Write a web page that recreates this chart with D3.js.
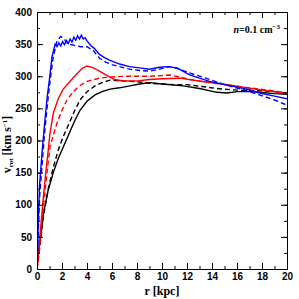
<!DOCTYPE html>
<html><head><meta charset="utf-8">
<script src="https://cdn.jsdelivr.net/npm/d3@7"></script>
<style>body{margin:0;background:#fff}</style>
</head><body>
<script>
// radius (kpc) and rotation velocity (km/s) samples
const blueSolidR = [0,0.1,0.2,0.4,0.6,0.8,1.0,1.2,1.45,1.6,1.75,1.9,2.05,2.2,2.35,2.5,2.65,2.8,2.95,3.1,3.25,3.4,3.55,3.7,3.85,4.0,4.3,4.6,5.0,5.4,5.8,6.2,6.6,7.4,8.2,9.0,9.8,10.5,11.2,12.2,13.0,13.8,15.0,16.0,17.0,17.8,19.0,20.0];
const blueSolidV = [0,70,130,180,225,265,296,330,350,346,352,347,354,349,356,351,358,353,361,356,363,358,364,358,360,355,348,343,334,329,325,322,319,315,313,311,314,315,313,302,297,292,287,283,279,274,269,265];
const blueDashR = [0,0.1,0.2,0.4,0.6,0.8,1.0,1.3,1.6,1.9,2.2,2.5,3.0,3.5,4.0,4.5,5.0,5.5,6.0,6.6,7.4,8.2,9.0,9.8,10.6,11.4,12.2,13.5,15.0,16.5,17.8,19.0,20.0];
const blueDashV = [0,55,110,160,210,250,285,330,355,362,357,350,348,346,346,340,328,322,318,315,311,309,308,311,315,311,305,297,287,279,271,263,255];
const redSolidR = [0,0.24,0.5,0.7,0.9,1.04,1.3,1.7,2.1,2.6,3.1,3.6,4.0,4.5,5.0,5.6,6.2,6.8,7.4,8.2,9.0,10.0,11.4,12.5,13.5,14.4,15.5,16.5,17.8,19.0,20.0];
const redSolidV = [0,53,110,150,185,211,242,265,280,291,302,312,316,313,308,301,295,293,292.5,293,295,296,297,294,291,289,286,283,279,276,273];
const redDashR = [0,0.24,0.5,0.8,1.04,1.3,1.6,2.0,2.4,2.9,3.4,4.0,5.0,6.0,7.0,8.0,9.0,10.0,10.6,11.4,12.2,13.5,15.0,16.5,17.8,19.0,20.0];
const redDashV = [0,40,95,150,190,208,227,247,263,276,285,292,297,299,300,300,300,301,302,299,295,291,287,283,280,277,274];
const blackSolidR = [0,0.2,0.5,0.9,1.3,1.7,2.1,2.6,3.0,3.44,4.0,4.64,5.2,5.84,6.6,7.44,8.2,9.04,10.0,11.7,13.0,14.4,15.2,16.0,17.0,17.8,19.0,20.0];
const blackSolidV = [0,40,85,123,150,172,190,212,230,247,261,271,276,280,282,285,288,290,288,285,281,275,274,276,276,275,273,272];
const blackDashR = [0,0.2,0.5,0.9,1.3,1.7,2.1,2.6,3.0,3.44,4.0,4.64,5.2,5.84,6.6,7.5,8.2,9.0,10.0,11.0,12.0,13.2,14.4,15.5,16.5,17.8,19.0,20.0];
const blackDashV = [0,30,80,125,158,185,206,228,246,263,276,285,290,294,293,292,291,289,288,287,287,284,281,279,278,277.5,276,274];

const xTicks = [0,2,4,6,8,10,12,14,16,18,20];
const yTicks = [0,50,100,150,200,250,300,350,400];

const series = [
  {r: blackSolidR, v: blackSolidV, color: "#000000", dash: null},
  {r: blackDashR, v: blackDashV, color: "#000000", dash: "5,3"},
  {r: redSolidR, v: redSolidV, color: "#ff0000", dash: null},
  {r: redDashR, v: redDashV, color: "#ff0000", dash: "5,3"},
  {r: blueSolidR, v: blueSolidV, color: "#0000ff", dash: null},
  {r: blueDashR, v: blueDashV, color: "#0000ff", dash: "5,3"}
];

const W = 299, H = 299;
const m = {l: 37, r: 12, t: 12, b: 30};
const svg = d3.select("body").append("svg").attr("width", W).attr("height", H);
const x = d3.scaleLinear().domain([0, 20]).range([m.l, W - m.r]);
const y = d3.scaleLinear().domain([0, 400]).range([H - m.b, m.t]);

svg.append("clipPath").attr("id", "c").append("rect")
  .attr("x", m.l).attr("y", m.t).attr("width", W - m.l - m.r).attr("height", H - m.t - m.b);

const line = d3.line().x(d => x(d[0])).y(d => y(d[1]));
const g = svg.append("g").attr("clip-path", "url(#c)");
series.forEach(s => {
  g.append("path").datum(s.r.map((r, i) => [r, s.v[i]]))
    .attr("d", line).attr("fill", "none").attr("stroke", s.color)
    .attr("stroke-width", 1.4).attr("stroke-dasharray", s.dash);
});

const font = "'Liberation Sans', Arial, sans-serif";
function styleAxis(sel) {
  sel.select(".domain").attr("stroke", "#000").attr("stroke-width", 1);
  sel.selectAll(".tick line").attr("stroke", "#000").attr("stroke-width", 1);
  sel.selectAll("text").attr("font-family", font).attr("font-weight", "bold").attr("font-size", 10).attr("fill", "#000");
}
const xMinor = d3.range(0, 21, 1);
const yMinor = d3.range(0, 401, 25);
svg.append("g").attr("transform", `translate(0,${H - m.b})`)
  .call(d3.axisBottom(x).tickValues(xMinor).tickSize(-3).tickFormat("")).call(styleAxis);
svg.append("g").attr("transform", `translate(0,${H - m.b})`)
  .call(d3.axisBottom(x).tickValues(xTicks).tickSize(-6).tickPadding(4).tickFormat(d3.format("d"))).call(styleAxis);
svg.append("g").attr("transform", `translate(0,${m.t})`)
  .call(d3.axisTop(x).tickValues(xMinor).tickSize(-3).tickFormat("")).call(styleAxis);
svg.append("g").attr("transform", `translate(0,${m.t})`)
  .call(d3.axisTop(x).tickValues(xTicks).tickSize(-6).tickFormat("")).call(styleAxis);
svg.append("g").attr("transform", `translate(${m.l},0)`)
  .call(d3.axisLeft(y).tickValues(yMinor).tickSize(-3).tickFormat("")).call(styleAxis);
svg.append("g").attr("transform", `translate(${m.l},0)`)
  .call(d3.axisLeft(y).tickValues(yTicks).tickSize(-6).tickPadding(5).tickFormat(d3.format("d"))).call(styleAxis);
svg.append("g").attr("transform", `translate(${W - m.r},0)`)
  .call(d3.axisRight(y).tickValues(yMinor).tickSize(-3).tickFormat("")).call(styleAxis);
svg.append("g").attr("transform", `translate(${W - m.r},0)`)
  .call(d3.axisRight(y).tickValues(yTicks).tickSize(-6).tickFormat("")).call(styleAxis);

const serif = "'Liberation Serif', 'Times New Roman', serif";
svg.append("text").attr("x", (m.l + W - m.r) / 2).attr("y", 295)
  .attr("text-anchor", "middle").attr("font-family", serif).attr("font-weight", "bold").attr("font-size", 12)
  .text("r [kpc]");

const yl = svg.append("text").attr("transform", `translate(11,${(m.t + H - m.b) / 2 + 4}) rotate(-90)`)
  .attr("text-anchor", "middle").attr("font-family", serif).attr("font-weight", "bold").attr("font-size", 12);
yl.append("tspan").text("v");
yl.append("tspan").attr("font-size", 7).attr("dy", 2).text("rot");
yl.append("tspan").attr("dy", -2).text(" [km  s");
yl.append("tspan").attr("font-size", 7).attr("dy", -4).text("−1");
yl.append("tspan").attr("dy", 4).text("]");

const ann = svg.append("text").attr("x", 280).attr("y", 33).attr("text-anchor", "end")
  .attr("font-family", serif).attr("font-weight", "bold").attr("font-size", 10);
ann.append("tspan").attr("font-style", "italic").text("n");
ann.append("tspan").text("=0.1  cm");
ann.append("tspan").attr("font-size", 7).attr("dy", -4).text("−3");
</script>
</body></html>
